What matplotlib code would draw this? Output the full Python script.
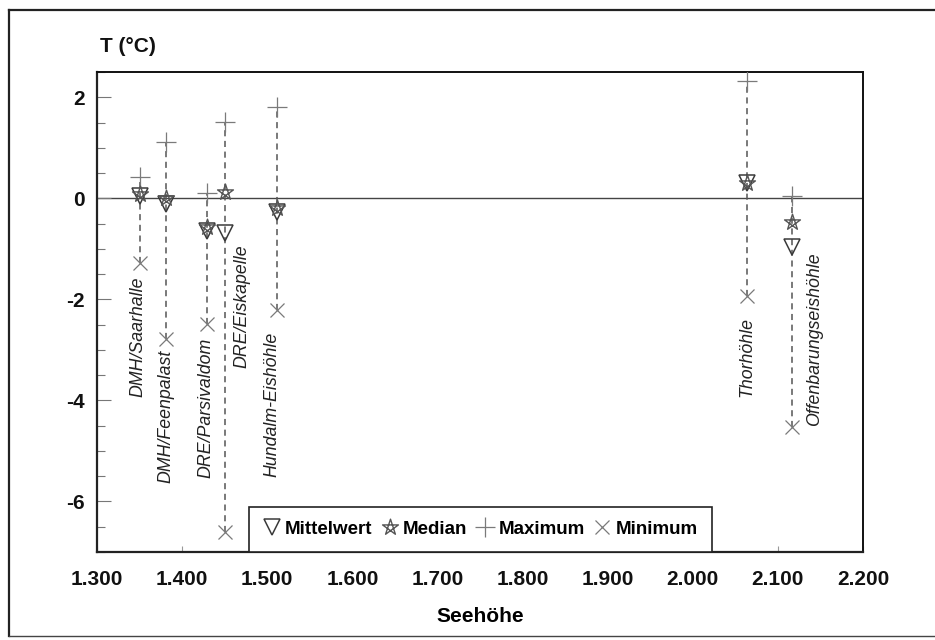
import matplotlib
matplotlib.use("Agg")
import matplotlib.pyplot as plt
import numpy as np
from matplotlib.path import Path
from matplotlib.ticker import MultipleLocator, FuncFormatter
from matplotlib.lines import Line2D

# ---- data ----
caves = ["DMH/Saarhalle", "DMH/Feenpalast", "DRE/Parsivaldom", "DRE/Eiskapelle",
         "Hundalm-Eishöhle", "Thorhöhle", "Offenbarungseishöhle"]
altitude = [1351, 1381, 1429, 1450, 1511, 2064, 2116]
mittelwert = [0.04, -0.12, -0.65, -0.69, -0.27, 0.31, -0.97]
median = [0.08, 0.00, -0.57, 0.12, -0.20, 0.31, -0.47]
maximum = [0.42, 1.12, 0.10, 1.51, 1.81, 2.32, 0.04]
minimum = [-1.29, -2.79, -2.49, -6.60, -2.21, -1.94, -4.53]

# label anchor (layout): x in altitude units, y centre in T units
label_x = [1348, 1381, 1428, 1470, 1506, 2064, 2143]
label_y = [-2.73, -4.32, -4.14, -2.14, -4.08, -3.15, -2.79]

xticks = [1300, 1400, 1500, 1600, 1700, 1800, 1900, 2000, 2100, 2200]
yticks = [2, 0, -2, -4, -6]

# ---- style ----
plt.rcParams['font.family'] = ['Liberation Sans', 'DejaVu Sans']
plt.rcParams['axes.unicode_minus'] = False

fig = plt.figure(figsize=(9.35, 6.4), dpi=100)
W, H = 935, 640
ax = fig.add_axes([97 / W, 1 - 552 / H, (863 - 97) / W, (552 - 72) / H])

mcol = "#3a3a3a"
pcol = "#7a7a7a"

# pentagram marker (lines crossing)
ang = np.deg2rad(90 + 72 * np.array([0, 2, 4, 1, 3, 0]))
star_verts = np.column_stack([np.cos(ang), np.sin(ang)])
star_marker = Path(star_verts, [Path.MOVETO] + [Path.LINETO] * 4 + [Path.CLOSEPOLY])

ax.axhline(0, color="#444444", lw=1.0, zorder=1)

for i in range(len(caves)):
    ax.plot([altitude[i], altitude[i]], [minimum[i], maximum[i]],
            ls=(0, (4, 3)), color="#555555", lw=1.1, zorder=2)

ax.plot(altitude, maximum, ls="none", marker="+", ms=14, mew=0.9, color=pcol,
        zorder=3, label="Maximum")
ax.plot(altitude, minimum, ls="none", marker="x", ms=10, mew=0.9, color=pcol,
        zorder=3, label="Minimum")
ax.plot(altitude, mittelwert, ls="none", marker="v", ms=12, mew=1.1, mfc="none",
        mec=mcol, zorder=4, label="Mittelwert")
ax.plot(altitude, median, ls="none", marker=star_marker, ms=12, mew=1.0, mfc="none",
        mec="#555555", zorder=5, label="Median")

for i, name in enumerate(caves):
    ax.text(label_x[i], label_y[i], name, rotation=90, ha="center", va="center",
            fontsize=12.8, style="italic", color="#222222", zorder=6)

ax.set_xlim(1300, 2200)
ax.set_ylim(-7, 2.5)
ax.set_xticks(xticks)
ax.set_yticks(yticks)
ax.yaxis.set_minor_locator(MultipleLocator(0.5))
ax.xaxis.set_major_formatter(FuncFormatter(lambda v, p: f"{int(round(v)):,}".replace(",", ".")))
ax.yaxis.set_major_formatter(FuncFormatter(lambda v, p: f"{int(round(v))}"))

ax.tick_params(axis="y", which="major", direction="in", length=10, width=0.8,
               color="#777777", pad=9, labelsize=15)
ax.tick_params(axis="y", which="minor", direction="in", length=6, width=0.8,
               color="#777777")
ax.tick_params(axis="x", which="major", direction="in", length=4, width=0.8,
               color="#999999", pad=13, labelsize=15)
for lab in ax.get_xticklabels() + ax.get_yticklabels():
    lab.set_fontweight("bold")
    lab.set_color("#111111")

for side in ["left", "bottom"]:
    ax.spines[side].set_linewidth(1.6)
    ax.spines[side].set_color("#222222")
for side in ["top", "right"]:
    ax.spines[side].set_linewidth(1.4)
    ax.spines[side].set_color("#111111")

ax.set_xlabel("Seehöhe", fontsize=15, fontweight="bold", labelpad=13)
fig.text(100 / W, 1 - 47 / H, "T (°C)", fontsize=15, fontweight="bold",
         ha="left", va="center", color="#111111")

handles, labels = ax.get_legend_handles_labels()
order = [labels.index(k) for k in ["Mittelwert", "Median", "Maximum", "Minimum"]]
leg = ax.legend([handles[k] for k in order], [labels[k] for k in order],
                loc="lower left", bbox_to_anchor=((249 - 97) / 766, 0.0),
                ncol=4, frameon=True, fancybox=False, framealpha=1,
                edgecolor="#222222", borderaxespad=0, handlelength=0.9,
                handletextpad=0.25, columnspacing=0.5, borderpad=0.75,
                prop={"weight": "bold", "size": 13.5})
leg.get_frame().set_linewidth(1.2)

# outer frame of the figure
fig.add_artist(Line2D([9 / W, 9 / W], [1 - 636 / H, 1 - 10 / H], color="#222222", lw=1.6,
                      transform=fig.transFigure))
fig.add_artist(Line2D([9 / W, 1.0], [1 - 10 / H, 1 - 10 / H], color="#222222", lw=1.6,
                      transform=fig.transFigure))
fig.add_artist(Line2D([9 / W, 1.0], [1 - 636 / H, 1 - 636 / H], color="#444444", lw=1.0,
                      transform=fig.transFigure))

fig.savefig("out.png", dpi=100, facecolor="white")
